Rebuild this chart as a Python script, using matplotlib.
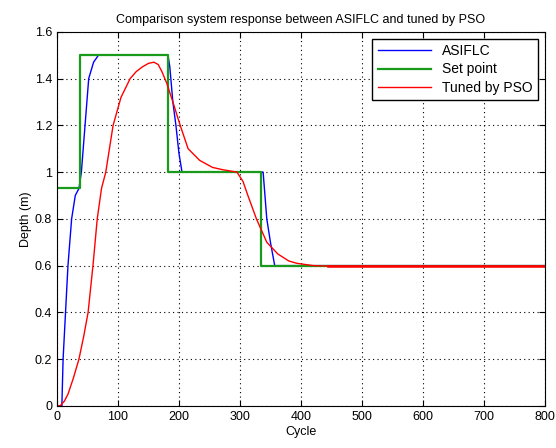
import numpy as np
import matplotlib.pyplot as plt

plt.rcParams['font.family'] = ['Liberation Sans', 'DejaVu Sans']

# set point profile (step changes in depth)
sp_cycle = [0, 37, 37, 182, 182, 334, 334, 800]
sp_depth = [0.93, 0.93, 1.5, 1.5, 1.0, 1.0, 0.6, 0.6]

# ASIFLC response
asiflc_cycle = [0, 8, 10, 14, 18, 24, 30, 36, 40, 46, 52, 60, 68, 180,
                182, 185, 190, 195, 200, 205, 336, 338, 344, 350, 357, 362, 800]
asiflc_depth = [0, 0, 0.2, 0.4, 0.6, 0.8, 0.9, 0.93, 1.0, 1.2, 1.4, 1.47, 1.5, 1.5,
                1.5, 1.45, 1.3, 1.2, 1.08, 1.0, 1.0, 1.0, 0.8, 0.7, 0.6, 0.6, 0.6]

# PSO tuned response
pso_cycle = [0, 5, 12, 18, 27, 36, 44, 51, 59, 66, 73, 80, 92, 105, 120, 130,
             140, 150, 159, 166, 172, 180, 190, 202, 215, 234, 255, 272, 295,
             305, 313, 327, 344, 362, 380, 393, 420, 445, 800]
pso_depth = [0, 0, 0.02, 0.05, 0.12, 0.2, 0.3, 0.4, 0.6, 0.8, 0.93, 1.0, 1.2,
             1.32, 1.4, 1.43, 1.45, 1.465, 1.47, 1.46, 1.43, 1.38, 1.3, 1.2,
             1.1, 1.05, 1.02, 1.01, 1.0, 0.96, 0.9, 0.8, 0.7, 0.65, 0.62, 0.61,
             0.6, 0.598, 0.598]

fig = plt.figure(figsize=(5.56, 4.48), dpi=100)
ax = fig.add_axes([0.1025, 0.094, 0.8775, 0.835])

ax.plot(asiflc_cycle, asiflc_depth, color='blue', lw=1.0, label='ASIFLC')
ax.plot(sp_cycle, sp_depth, color='#1a9a1a', lw=1.6, label='Set point')
ax.plot(pso_cycle, pso_depth, color='red', lw=1.0, label='Tuned by PSO')
# red trace lies on top of the set point once settled
ax.plot(pso_cycle[-2:], pso_depth[-2:], color='red', lw=1.8)

ax.set_xlim(0, 800)
ax.set_ylim(0, 1.6)
ax.set_xticks(np.arange(0, 801, 100))
ax.set_yticks(np.arange(0, 1.61, 0.2))
ax.set_yticklabels(['0', '0.2', '0.4', '0.6', '0.8', '1', '1.2', '1.4', '1.6'])
ax.tick_params(direction='in', labelsize=9, length=4, top=True, right=True)
ax.grid(True, linestyle=(0, (1, 3)), color='black', lw=0.8)

ax.set_title('Comparison system response between ASIFLC and tuned by PSO',
             fontsize=9, pad=6)
ax.set_xlabel('Cycle', fontsize=9, labelpad=2)
ax.set_ylabel('Depth (m)', fontsize=9, labelpad=2)

leg = ax.legend(loc='upper right', fontsize=10, handlelength=3.8,
                fancybox=False, framealpha=1, borderaxespad=0.5,
                labelspacing=0.3)
leg.get_frame().set_edgecolor('black')

fig.savefig('out.png', dpi=100)
